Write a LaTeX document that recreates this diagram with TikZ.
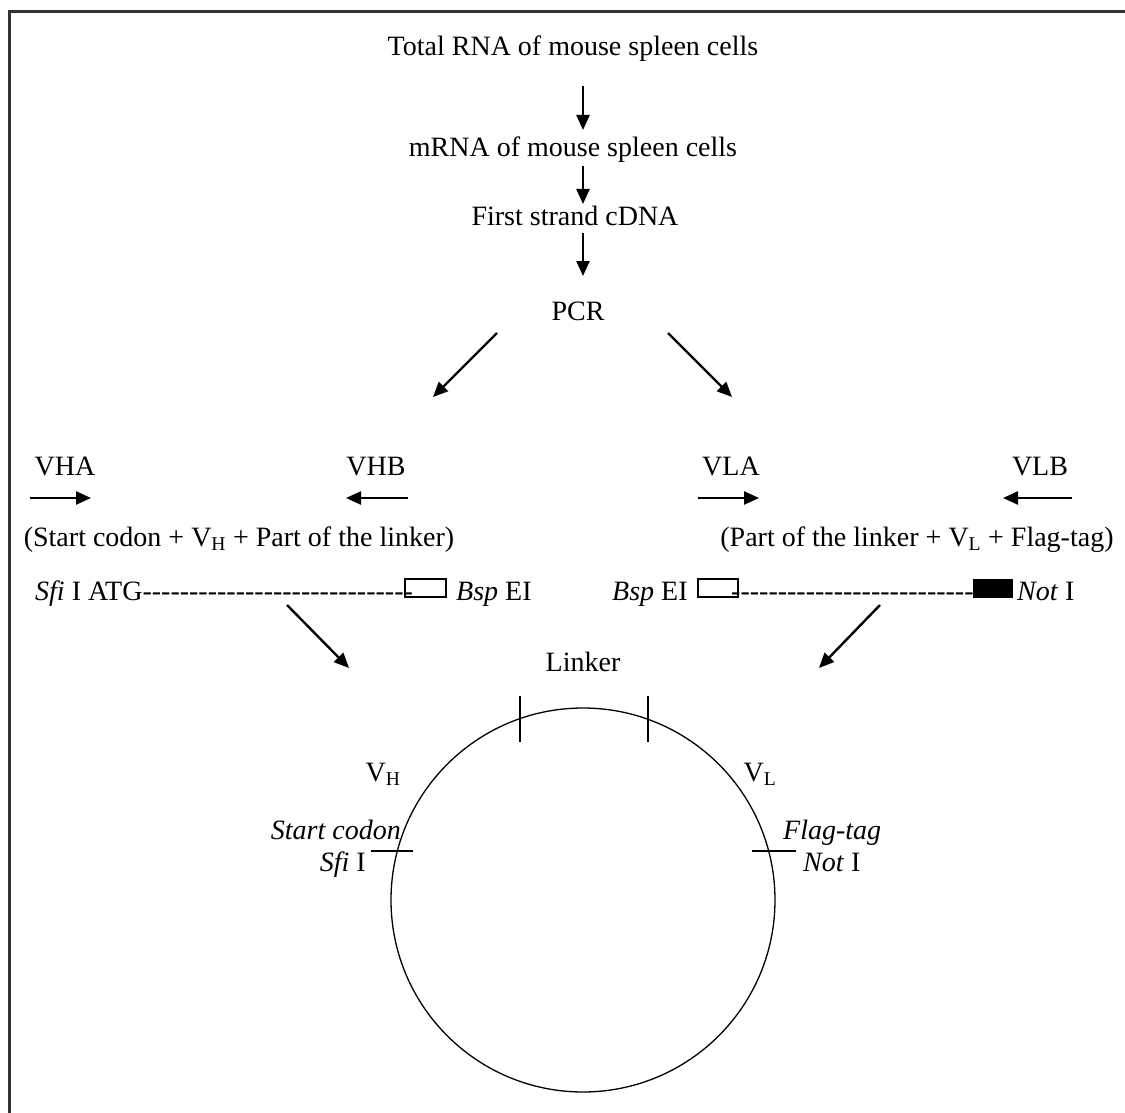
\documentclass[tikz,border=0pt]{standalone}
\usepackage{fontspec}
\setmainfont{Liberation Serif}
\usetikzlibrary{arrows.meta}
\newcommand\hyphs[1]{\foreach\k in {1,...,#1}{-\kern0pt}}
\begin{document}
\begin{tikzpicture}[x=1pt,y=-1pt,
  font=\fontsize{28}{33}\selectfont,
  arr/.style={line width=2.4pt,-{Triangle[length=15pt,width=13pt]}},
  txt/.style={inner sep=0pt,anchor=base},
  txtl/.style={inner sep=0pt,anchor=base west},
  txtr/.style={inner sep=0pt,anchor=base east},
  tick/.style={line width=1.2pt}]
\useasboundingbox (0,0) rectangle (1125,1113);
\draw[line width=3pt,draw=black!80] (9,1113) -- (9,12) -- (1125,12);
% flow
\node[txt] (total) at (573,56) {Total RNA of mouse spleen cells};
\node[txt] (mrna) at (573,157) {mRNA of mouse spleen cells};
\node[txt] (first) at (575,225) {First strand cDNA};
\node[txt] (pcr) at (578,320) {PCR};
\coordinate (a1s) at (583,86); \coordinate (a1e) at (583,130);
\coordinate (a2s) at (583,166); \coordinate (a2e) at (583,204);
\coordinate (a3s) at (583,233); \coordinate (a3e) at (583,276);
\draw[arr] (a1s) -- (a1e);
\draw[arr] (a2s) -- (a2e);
\draw[arr] (a3s) -- (a3e);
\coordinate (pl) at (497,333); \coordinate (plE) at (433,397);
\coordinate (pr) at (668,333); \coordinate (prE) at (732,397);
\draw[arr] (pl) -- (plE);
\draw[arr] (pr) -- (prE);
% primers
\node[txt] (vha) at (65,475) {VHA};
\node[txt] (vhb) at (376,475) {VHB};
\node[txt] (vla) at (731,475) {VLA};
\node[txt] (vlb) at (1040,475) {VLB};
\coordinate (vhaS) at (30,498); \coordinate (vhaE) at (91,498);
\coordinate (vhbS) at (408,498); \coordinate (vhbE) at (346,498);
\coordinate (vlaS) at (698,498); \coordinate (vlaE) at (759,498);
\coordinate (vlbS) at (1072,498); \coordinate (vlbE) at (1003,498);
\draw[arr] (vhaS) -- (vhaE);
\draw[arr] (vhbS) -- (vhbE);
\draw[arr] (vlaS) -- (vlaE);
\draw[arr] (vlbS) -- (vlbE);
\node[txt] (heavy) at (239,546) {(Start codon + V\textsubscript{H} + Part of the linker)};
\node[txt] (light) at (917,546) {(Part of the linker + V\textsubscript{L} + Flag-tag)};
% fragments
\node[txtl] (seqH) at (35,600) {\textit{Sfi} I ATG\hyphs{29}};
\draw[line width=1.2pt] (405,579) rectangle (446,597);
\node[txtl] (bspH) at (456,600) {\textit{Bsp} EI};
\node[txtl] (bspL) at (612,600) {\textit{Bsp} EI};
\draw[line width=1.2pt] (698,579) rectangle (738,597);
\node[txtl] (seqL) at (731,600) {\hyphs{26}};
\fill (973,579) rectangle (1013,598);
\node[txtl] (notL) at (1017,600) {\textit{Not} I};
\coordinate (fl) at (287,605); \coordinate (flE) at (349,668);
\coordinate (fr) at (880,605); \coordinate (frE) at (819,668);
\draw[arr] (fl) -- (flE);
\draw[arr] (fr) -- (frE);
% plasmid
\node[draw,circle,line width=1.3pt,minimum size=384pt,inner sep=0pt] (plasmid) at (583,900) {};
\draw[tick] (520,696) -- (520,742);
\draw[tick] (648,696) -- (648,742);
\draw[tick] (371,851) -- (413,851);
\draw[tick] (752,851) -- (796,851);
\node[txt] (linker) at (583,671) {Linker};
\node[txt] (vh) at (383,781) {V\textsubscript{H}};
\node[txt] (vl) at (760,781) {V\textsubscript{L}};
\node[txtr] (start) at (401,839) {\textit{Start codon}};
\node[txtr] (sfi) at (366,871) {\textit{Sfi} I};
\node[txtl] (flag) at (783,839) {\textit{Flag-tag}};
\node[txtl] (noti) at (803,871) {\textit{Not} I};
\end{tikzpicture}
\end{document}
